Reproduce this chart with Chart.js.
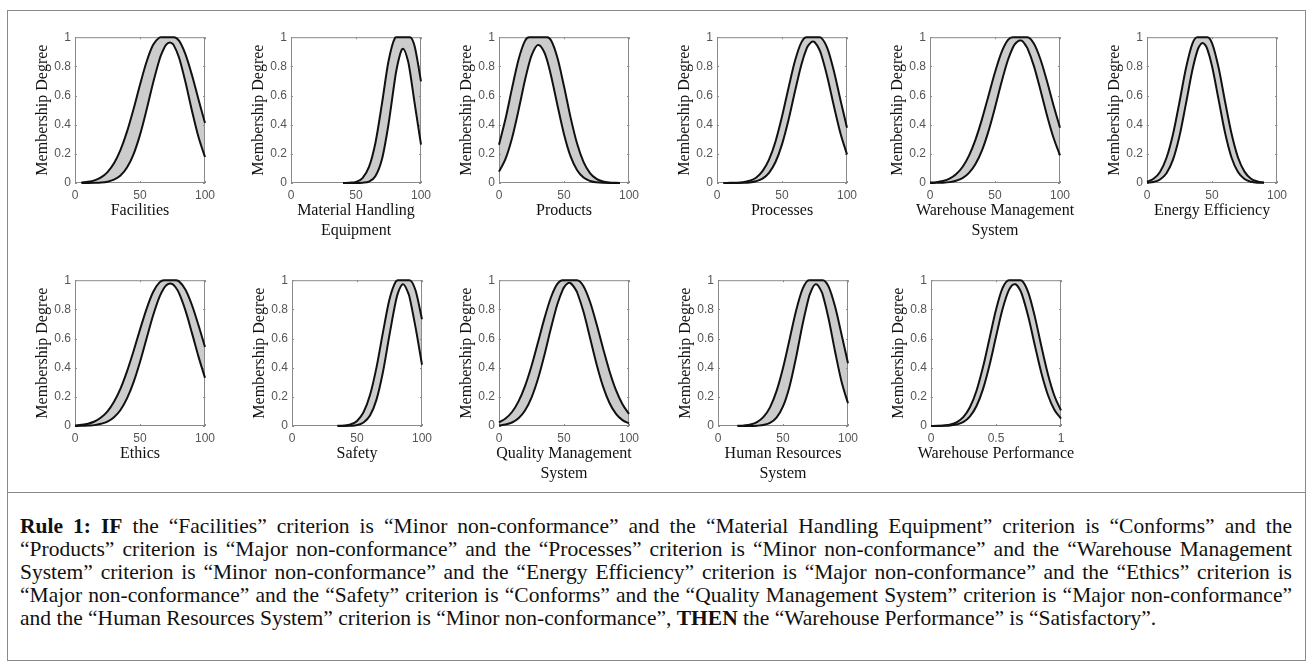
<!DOCTYPE html>
<html>
<head>
<meta charset="utf-8">
<script src="https://cdn.jsdelivr.net/npm/chart.js@4.4.1/dist/chart.umd.min.js"></script>
<style>
  body { margin: 0; width: 1312px; height: 666px; background: #fff; position: relative; overflow: hidden; }
  #frame { position: absolute; left: 7px; top: 10px; width: 1297px; height: 649px; border: 1px solid #8a8a8a; }
  #divider { position: absolute; left: 7px; top: 492px; width: 1298px; height: 1px; background: #8a8a8a; }
  #rule { position: absolute; left: 20px; top: 515px; width: 1272px; font: 21.5px "Liberation Serif", serif; line-height: 23px; color: #111; }
  #rule .full { text-align: justify; text-align-last: justify; }
  canvas.panel { position: absolute; }
</style>
</head>
<body>
<div id="frame"></div>
<div id="divider"></div>
<div id="rule">
  <div class="full"><b>Rule 1: IF</b> the “Facilities” criterion is “Minor non-conformance” and the “Material Handling Equipment” criterion is “Conforms” and the</div>
  <div class="full">“Products” criterion is “Major non-conformance” and the “Processes” criterion is “Minor non-conformance” and the “Warehouse Management</div>
  <div class="full">System” criterion is “Minor non-conformance” and the “Energy Efficiency” criterion is “Major non-conformance” and the “Ethics” criterion is</div>
  <div class="full">“Major non-conformance” and the “Safety” criterion is “Conforms” and the “Quality Management System” criterion is “Major non-conformance”</div>
  <div>and the “Human Resources System” criterion is “Minor non-conformance”, <b>THEN</b> the “Warehouse Performance” is “Satisfactory”.</div>
</div>
<script>
// membership curves: x positions, upper and lower membership values

const facilitiesX = [5, 10, 15, 20, 25, 30, 35, 40, 45, 50, 55, 60, 65, 66, 70, 73, 75, 76, 80, 85, 90, 95, 100];
const facilitiesUpper = [0.003, 0.008, 0.018, 0.038, 0.075, 0.135, 0.227, 0.352, 0.506, 0.674, 0.83, 0.946, 0.998, 1, 1, 1, 1, 1, 0.976, 0.882, 0.739, 0.573, 0.411];
const facilitiesLower = [0, 0, 0.001, 0.003, 0.009, 0.023, 0.051, 0.106, 0.197, 0.33, 0.5, 0.684, 0.847, 0.873, 0.947, 0.964, 0.955, 0.944, 0.861, 0.691, 0.494, 0.315, 0.178];

const handlingX = [40, 45, 50, 55, 60, 65, 70, 75, 80, 81, 85, 86.2, 90, 91.5, 95, 100];
const handlingUpper = [0, 0.002, 0.008, 0.034, 0.11, 0.278, 0.546, 0.835, 0.995, 1, 1, 1, 1, 1, 0.941, 0.697];
const handlingLower = [0, 0, 0, 0.002, 0.01, 0.048, 0.164, 0.403, 0.715, 0.77, 0.911, 0.92, 0.836, 0.765, 0.553, 0.263];

const productsX = [0, 5, 10, 15, 20, 23.2, 25, 30, 30.4, 35, 37.1, 40, 45, 50, 55, 60, 65, 70, 75, 80, 85, 90, 93];
const productsUpper = [0.263, 0.44, 0.649, 0.846, 0.975, 1, 1, 1, 1, 1, 1, 0.979, 0.857, 0.663, 0.452, 0.272, 0.145, 0.068, 0.028, 0.01, 0.003, 0.001, 0];
const productsLower = [0.078, 0.165, 0.307, 0.498, 0.706, 0.822, 0.874, 0.946, 0.946, 0.893, 0.838, 0.737, 0.532, 0.335, 0.184, 0.089, 0.037, 0.014, 0.005, 0.001, 0, 0, 0];

const processesX = [5, 10, 15, 20, 25, 30, 35, 40, 45, 50, 55, 60, 65, 69, 70, 73.7, 75, 78.9, 80, 85, 90, 95, 100];
const processesUpper = [0, 0.001, 0.002, 0.005, 0.015, 0.036, 0.081, 0.16, 0.285, 0.456, 0.652, 0.838, 0.966, 1, 1, 1, 1, 1, 0.997, 0.922, 0.765, 0.568, 0.379];
const processesLower = [0, 0, 0, 0.001, 0.004, 0.012, 0.03, 0.07, 0.144, 0.265, 0.432, 0.629, 0.815, 0.923, 0.94, 0.971, 0.967, 0.912, 0.886, 0.722, 0.525, 0.34, 0.196];

const wmsX = [0, 5, 10, 15, 20, 25, 30, 35, 40, 45, 50, 55, 60, 63.6, 65, 69.2, 70, 74.4, 75, 80, 85, 90, 95, 100];
const wmsUpper = [0.003, 0.006, 0.014, 0.03, 0.06, 0.11, 0.188, 0.298, 0.438, 0.599, 0.76, 0.896, 0.981, 1, 1, 1, 1, 1, 1, 0.955, 0.847, 0.698, 0.533, 0.379];
const wmsLower = [0, 0.001, 0.002, 0.006, 0.015, 0.033, 0.069, 0.13, 0.224, 0.356, 0.517, 0.691, 0.845, 0.926, 0.949, 0.978, 0.978, 0.933, 0.923, 0.8, 0.636, 0.463, 0.31, 0.19];

const energyX = [0, 5, 10, 15, 20, 25, 30, 35, 38.7, 40, 42.8, 45, 46.4, 50, 55, 60, 65, 70, 75, 80, 85, 90];
const energyUpper = [0.009, 0.029, 0.076, 0.173, 0.335, 0.556, 0.789, 0.958, 1, 1, 1, 1, 1, 0.96, 0.794, 0.561, 0.339, 0.175, 0.078, 0.029, 0.01, 0.003];
const energyLower = [0.002, 0.007, 0.024, 0.067, 0.16, 0.322, 0.546, 0.778, 0.906, 0.934, 0.96, 0.944, 0.918, 0.803, 0.575, 0.346, 0.175, 0.075, 0.027, 0.008, 0.002, 0.001];

const ethicsX = [0, 5, 10, 15, 20, 25, 30, 35, 40, 45, 50, 55, 60, 65, 68.5, 70, 73.1, 75, 77.5, 80, 85, 90, 95, 100];
const ethicsUpper = [0.003, 0.008, 0.016, 0.031, 0.058, 0.101, 0.167, 0.257, 0.375, 0.513, 0.661, 0.802, 0.917, 0.985, 1, 1, 1, 1, 1, 0.992, 0.934, 0.828, 0.691, 0.542];
const ethicsLower = [0, 0.001, 0.003, 0.006, 0.015, 0.03, 0.06, 0.11, 0.189, 0.299, 0.439, 0.598, 0.756, 0.886, 0.947, 0.964, 0.978, 0.973, 0.95, 0.911, 0.791, 0.637, 0.476, 0.33];

const safetyX = [35, 40, 45, 50, 55, 60, 65, 70, 75, 80, 81.4, 85, 85.5, 90, 90.4, 95, 100];
const safetyUpper = [0.001, 0.003, 0.011, 0.035, 0.094, 0.212, 0.402, 0.644, 0.87, 0.993, 1, 1, 1, 1, 1, 0.931, 0.732];
const safetyLower = [0, 0, 0.001, 0.006, 0.024, 0.072, 0.181, 0.372, 0.626, 0.862, 0.91, 0.972, 0.973, 0.897, 0.884, 0.678, 0.42];

const qualityX = [0, 5, 10, 15, 20, 25, 30, 35, 40, 45, 49, 50, 54.1, 55, 59.8, 60, 65, 70, 75, 80, 85, 90, 95, 100];
const qualityUpper = [0.025, 0.051, 0.096, 0.169, 0.274, 0.412, 0.574, 0.74, 0.883, 0.976, 1, 1, 1, 1, 1, 1, 0.959, 0.852, 0.701, 0.534, 0.376, 0.246, 0.149, 0.083];
const qualityLower = [0.004, 0.01, 0.024, 0.053, 0.106, 0.195, 0.324, 0.489, 0.672, 0.838, 0.934, 0.951, 0.982, 0.98, 0.923, 0.919, 0.783, 0.606, 0.426, 0.272, 0.158, 0.083, 0.04, 0.018];

const humanX = [15, 20, 25, 30, 35, 40, 45, 50, 55, 60, 65, 70, 70.3, 75, 75.5, 80, 80.6, 85, 90, 95, 100];
const humanUpper = [0.001, 0.004, 0.01, 0.026, 0.062, 0.128, 0.239, 0.398, 0.592, 0.789, 0.939, 1, 1, 1, 1, 1, 1, 0.958, 0.821, 0.629, 0.431];
const humanLower = [0, 0, 0, 0.002, 0.007, 0.021, 0.057, 0.134, 0.27, 0.468, 0.695, 0.887, 0.896, 0.973, 0.973, 0.915, 0.899, 0.739, 0.513, 0.305, 0.156];

const performanceX = [0, 0.05, 0.1, 0.15, 0.2, 0.25, 0.3, 0.35, 0.4, 0.45, 0.5, 0.55, 0.6, 0.642, 0.65, 0.686, 0.7, 0.75, 0.8, 0.85, 0.9, 0.95, 1];
const performanceUpper = [0, 0.001, 0.004, 0.01, 0.027, 0.062, 0.13, 0.242, 0.404, 0.6, 0.797, 0.945, 1, 1, 1, 1, 0.996, 0.911, 0.745, 0.543, 0.354, 0.206, 0.107];
const performanceLower = [0, 0, 0.001, 0.004, 0.011, 0.028, 0.066, 0.137, 0.253, 0.417, 0.612, 0.801, 0.934, 0.973, 0.972, 0.931, 0.901, 0.744, 0.548, 0.36, 0.211, 0.11, 0.051];

const axisTitles = [
  ['Facilities'],
  ['Material Handling', 'Equipment'],
  ['Products'],
  ['Processes'],
  ['Warehouse Management', 'System'],
  ['Energy Efficiency'],
  ['Ethics'],
  ['Safety'],
  ['Quality Management', 'System'],
  ['Human Resources', 'System'],
  ['Warehouse Performance']
];
const xMaxima = [100, 100, 100, 100, 100, 100, 100, 100, 100, 100, 1];

const curves = [
  [facilitiesX, facilitiesUpper, facilitiesLower],
  [handlingX, handlingUpper, handlingLower],
  [productsX, productsUpper, productsLower],
  [processesX, processesUpper, processesLower],
  [wmsX, wmsUpper, wmsLower],
  [energyX, energyUpper, energyLower],
  [ethicsX, ethicsUpper, ethicsLower],
  [safetyX, safetyUpper, safetyLower],
  [qualityX, qualityUpper, qualityLower],
  [humanX, humanUpper, humanLower],
  [performanceX, performanceUpper, performanceLower]
];

// where each plot box sits on the page
const plotLefts = [75, 291, 499, 717, 930, 1147, 75, 292, 499, 718, 931];
const plotTops = [34, 34, 34, 34, 34, 34, 277, 277, 277, 277, 277];
const Y_AXIS_W = 46, X_AXIS_H = 20, PAD_TOP = 8, PAD_RIGHT = 20, PAD_BOTTOM = 40;
const PLOT_W = 130, PLOT_H = 149;

const boxColor = '#8a8a8a';
const tickColor = '#555';

Chart.defaults.font.family = '"Liberation Sans", Arial, sans-serif';

const toPoints = (xs, ys) => xs.map((x, i) => ({ x: x, y: ys[i] }));
const shortLabel = v => String(Math.round(v * 10) / 10);

const boxPlugin = {
  id: 'box',
  beforeDatasetsDraw(chart) {
    const { ctx, chartArea: a, scales } = chart;
    ctx.save();
    ctx.strokeStyle = boxColor;
    ctx.lineWidth = 1;
    ctx.strokeRect(a.left + 0.5, a.top + 0.5, a.width - 1, a.height - 1);
    ctx.beginPath();
    scales.x.ticks.forEach(t => {
      const px = Math.round(scales.x.getPixelForValue(t.value)) + 0.5;
      ctx.moveTo(px, a.bottom); ctx.lineTo(px, a.bottom - 2);
      ctx.moveTo(px, a.top); ctx.lineTo(px, a.top + 2);
    });
    scales.y.ticks.forEach(t => {
      const py = Math.round(scales.y.getPixelForValue(t.value)) + 0.5;
      ctx.moveTo(a.left, py); ctx.lineTo(a.left + 2, py);
      ctx.moveTo(a.right, py); ctx.lineTo(a.right - 2, py);
    });
    ctx.stroke();
    ctx.restore();
  }
};

function makeTitlePlugin(lines) {
  return {
    id: 'xTitle',
    afterDraw(chart) {
      const { ctx, chartArea: a } = chart;
      ctx.save();
      ctx.font = '16px "Liberation Serif"';
      ctx.fillStyle = '#111';
      ctx.textAlign = 'center';
      ctx.textBaseline = 'middle';
      lines.forEach((line, i) => ctx.fillText(line, (a.left + a.right) / 2, a.bottom + 28 + i * 20));
      ctx.restore();
    }
  };
}

curves.forEach((c, i) => {
  const canvas = document.createElement('canvas');
  canvas.className = 'panel';
  const w = Y_AXIS_W + PLOT_W + PAD_RIGHT;
  const h = PAD_TOP + PLOT_H + X_AXIS_H + PAD_BOTTOM;
  canvas.width = w;
  canvas.height = h;
  canvas.style.width = w + 'px';
  canvas.style.height = h + 'px';
  canvas.style.left = (plotLefts[i] - Y_AXIS_W) + 'px';
  canvas.style.top = (plotTops[i] - PAD_TOP) + 'px';
  document.body.appendChild(canvas);

  const xMax = xMaxima[i];

  new Chart(canvas, {
    type: 'line',
    data: {
      datasets: [
        {
          data: toPoints(c[0], c[1]),
          borderColor: '#111',
          borderWidth: 2,
          backgroundColor: '#cccccc',
          fill: '+1',
          pointRadius: 0,
          cubicInterpolationMode: 'monotone',
          clip: 3
        },
        {
          data: toPoints(c[0], c[2]),
          borderColor: '#111',
          borderWidth: 2,
          fill: false,
          pointRadius: 0,
          cubicInterpolationMode: 'monotone',
          clip: 3
        }
      ]
    },
    options: {
      responsive: false,
      animation: false,
      events: [],
      layout: { padding: { top: PAD_TOP, right: PAD_RIGHT, bottom: PAD_BOTTOM, left: 0 } },
      plugins: {
        legend: { display: false },
        tooltip: { enabled: false },
        filler: { drawTime: 'beforeDatasetsDraw' }
      },
      scales: {
        x: {
          type: 'linear',
          min: 0,
          max: xMax,
          ticks: { stepSize: xMax / 2, padding: 5, color: tickColor, font: { size: 12 }, callback: shortLabel },
          grid: { display: false, drawTicks: false },
          border: { display: false },
          afterFit: s => { s.height = X_AXIS_H; }
        },
        y: {
          min: 0,
          max: 1,
          ticks: { stepSize: 0.2, padding: 4, color: tickColor, font: { size: 12 }, callback: shortLabel },
          grid: { display: false, drawTicks: false },
          border: { display: false },
          title: {
            display: true,
            text: 'Membership Degree',
            color: '#111',
            font: { family: '"Liberation Serif", serif', size: 16 },
            padding: { top: 4, bottom: 0 }
          },
          afterFit: s => { s.width = Y_AXIS_W; }
        }
      }
    },
    plugins: [boxPlugin, makeTitlePlugin(axisTitles[i])]
  });
});
</script>
</body>
</html>
